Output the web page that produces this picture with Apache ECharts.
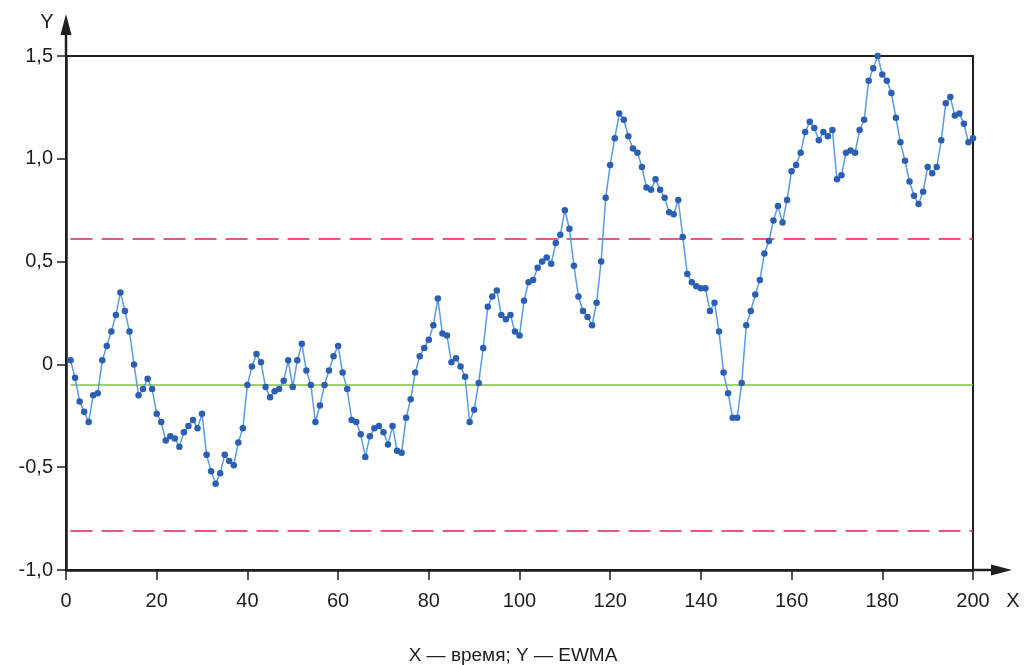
<!DOCTYPE html>
<html>
<head>
<meta charset="utf-8">
<script src="https://cdn.jsdelivr.net/npm/echarts@6/dist/echarts.min.js"></script>
<style>
  html, body { margin: 0; padding: 0; background: #ffffff; }
  #chart { width: 1026px; height: 665px; }
</style>
</head>
<body>
<div id="chart"></div>
<script>
// EWMA statistic for time points t = 1 … 200
const ewma = [
  0.02, -0.065, -0.18, -0.23, -0.28, -0.15, -0.14, 0.02, 0.09, 0.16,
  0.24, 0.35, 0.26, 0.16, 0.00, -0.15, -0.12, -0.07, -0.12, -0.24,
  -0.28, -0.37, -0.35, -0.36, -0.40, -0.33, -0.30, -0.27, -0.31, -0.24,
  -0.44, -0.52, -0.58, -0.53, -0.44, -0.47, -0.49, -0.38, -0.31, -0.10,
  -0.01, 0.05, 0.01, -0.11, -0.16, -0.13, -0.12, -0.08, 0.02, -0.11,
  0.02, 0.10, -0.03, -0.10, -0.28, -0.20, -0.10, -0.03, 0.04, 0.09,
  -0.04, -0.12, -0.27, -0.28, -0.34, -0.45, -0.35, -0.31, -0.30, -0.33,
  -0.39, -0.30, -0.42, -0.43, -0.26, -0.17, -0.04, 0.04, 0.08, 0.12,
  0.19, 0.32, 0.15, 0.14, 0.01, 0.03, -0.01, -0.06, -0.28, -0.22,
  -0.09, 0.08, 0.28, 0.33, 0.36, 0.24, 0.22, 0.24, 0.16, 0.14,
  0.31, 0.40, 0.41, 0.47, 0.50, 0.52, 0.49, 0.59, 0.63, 0.75,
  0.66, 0.48, 0.33, 0.26, 0.23, 0.19, 0.30, 0.50, 0.81, 0.97,
  1.10, 1.22, 1.19, 1.11, 1.05, 1.03, 0.96, 0.86, 0.85, 0.90,
  0.85, 0.81, 0.74, 0.73, 0.80, 0.62, 0.44, 0.40, 0.38, 0.37,
  0.37, 0.26, 0.30, 0.16, -0.04, -0.14, -0.26, -0.26, -0.09, 0.19,
  0.26, 0.34, 0.41, 0.54, 0.60, 0.70, 0.77, 0.69, 0.80, 0.94,
  0.97, 1.03, 1.13, 1.18, 1.15, 1.09, 1.13, 1.11, 1.14, 0.90,
  0.92, 1.03, 1.04, 1.03, 1.14, 1.19, 1.38, 1.44, 1.50, 1.41,
  1.38, 1.32, 1.20, 1.08, 0.99, 0.89, 0.82, 0.78, 0.84, 0.96,
  0.93, 0.96, 1.09, 1.27, 1.30, 1.21, 1.22, 1.17, 1.08, 1.10
];

// Control limits and centre line
const upperLimit = 0.61;
const centerLine = -0.10;
const lowerLimit = -0.81;

// Axis ranges
const xRange = [0, 200];
const xStep = 20;
const yRange = [-1.0, 1.5];
const yStep = 0.5;

// Texts
const xName = 'X';
const yName = 'Y';
const caption = 'X — время; Y — EWMA';

const FONT = '"Liberation Sans", Arial, Helvetica, sans-serif';
const INK = '#1e1e1e';

// Points as [t, value], t counted from 1
const points = ewma.map((v, i) => [i + 1, v]);

function limitLine(value, color, type, width) {
  return {
    symbol: 'none',
    silent: true,
    label: { show: false },
    lineStyle: { color: color, type: type, width: width },
    data: [[{ coord: [1, value] }, { coord: [xRange[1], value] }]]
  };
}

const chart = echarts.init(document.getElementById('chart'), null, { renderer: 'canvas' });

chart.setOption({
  animation: false,
  backgroundColor: '#ffffff',
  textStyle: { fontFamily: FONT },
  title: {
    text: caption,
    left: 'center',
    top: 641,
    textStyle: { fontFamily: FONT, fontSize: 19, fontWeight: 'normal', color: INK }
  },
  grid: {
    left: 66, right: 53, top: 56, bottom: 95,
    show: true, borderColor: INK, borderWidth: 2, backgroundColor: 'transparent'
  },
  xAxis: {
    type: 'value',
    min: xRange[0], max: xRange[1], interval: xStep,
    axisLine: { show: true, onZero: false, lineStyle: { color: INK, width: 2.5 } },
    axisTick: { show: true, length: 10, lineStyle: { color: INK, width: 1.5 } },
    axisLabel: { margin: 21, fontSize: 20, color: INK, fontFamily: FONT },
    splitLine: { show: false }
  },
  yAxis: {
    type: 'value',
    min: yRange[0], max: yRange[1], interval: yStep,
    axisLine: { show: true, onZero: false, lineStyle: { color: INK, width: 2.5 } },
    axisTick: { show: true, length: 9, lineStyle: { color: INK, width: 1.5 } },
    axisLabel: {
      margin: 13, fontSize: 20, color: INK, fontFamily: FONT,
      formatter: v => (v === 0 ? '0' : v.toFixed(1).replace('.', ','))
    },
    splitLine: { show: false }
  },
  series: [
    {
      type: 'line',
      data: points,
      symbol: 'circle',
      symbolSize: 6.5,
      showSymbol: true,
      itemStyle: { color: '#2b5fb4' },
      lineStyle: { color: '#5b9be0', width: 1.5 },
      z: 5,
      markLine: limitLine(upperLimit, '#e02458', [22, 9], 1.5)
    },
    {
      type: 'line', data: [], silent: true,
      markLine: limitLine(lowerLimit, '#e02458', [22, 9], 1.5)
    },
    {
      type: 'line', data: [], silent: true,
      markLine: limitLine(centerLine, '#7cc242', 'solid', 1.5)
    }
  ]
});

// Axis arrows and axis letters, placed from the grid's own pixel coordinates
const origin = chart.convertToPixel({ gridIndex: 0 }, [xRange[0], yRange[0]]);
const topLeft = chart.convertToPixel({ gridIndex: 0 }, [xRange[0], yRange[1]]);
const bottomRight = chart.convertToPixel({ gridIndex: 0 }, [xRange[1], yRange[0]]);

const yTip = topLeft[1] - 42;
const xTip = bottomRight[0] + 39;

chart.setOption({
  graphic: [
    { type: 'line', shape: { x1: origin[0], y1: topLeft[1], x2: origin[0], y2: yTip + 10 },
      style: { stroke: INK, lineWidth: 2.5 } },
    { type: 'polygon', shape: { points: [[origin[0], yTip], [origin[0] - 5.5, yTip + 21], [origin[0] + 5.5, yTip + 21]] },
      style: { fill: INK } },
    { type: 'line', shape: { x1: bottomRight[0], y1: origin[1], x2: xTip - 10, y2: origin[1] },
      style: { stroke: INK, lineWidth: 2.5 } },
    { type: 'polygon', shape: { points: [[xTip, origin[1]], [xTip - 21, origin[1] - 5.5], [xTip - 21, origin[1] + 5.5]] },
      style: { fill: INK } },
    { type: 'text', x: origin[0] - 19, y: yTip + 8,
      style: { text: yName, fill: INK, font: '20px ' + FONT, textAlign: 'center', textVerticalAlign: 'middle' } },
    { type: 'text', x: xTip + 1, y: origin[1] + 31,
      style: { text: xName, fill: INK, font: '20px ' + FONT, textAlign: 'center', textVerticalAlign: 'middle' } }
  ]
});
</script>
</body>
</html>
